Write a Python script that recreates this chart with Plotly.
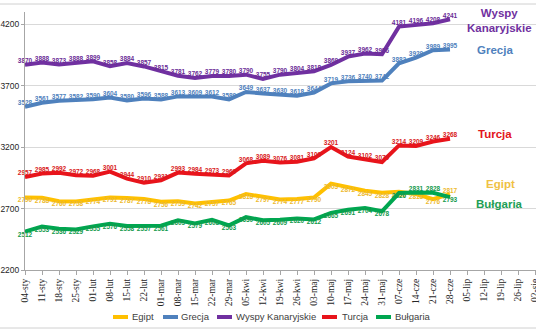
import plotly.graph_objects as go

# ---------------- data ----------------
categories = ["04-sty", "11-sty", "18-sty", "25-sty", "01-lut", "08-lut", "15-lut", "22-lut",
              "01-mar", "08-mar", "15-mar", "22-mar", "29-mar", "05-kwi", "12-kwi", "19-kwi",
              "26-kwi", "03-maj", "10-maj", "17-maj", "24-maj", "31-maj", "07-cze", "14-cze",
              "21-cze", "28-cze", "05-lip", "12-lip", "19-lip", "26-lip", "02-sie"]

egipt = [2790, 2788, 2760, 2758, 2774, 2791, 2787, 2778, 2756, 2759, 2742, 2757, 2765,
         2818, 2797, 2774, 2777, 2790, 2903, 2872, 2845, 2828, 2836, 2818, 2776, 2817]
grecja = [3528, 3561, 3577, 3582, 3590, 3604, 3580, 3596, 3588, 3613, 3609, 3612, 3589,
          3649, 3637, 3630, 3618, 3644, 3719, 3736, 3740, 3742, 3882, 3929, 3989, 3995]
wyspy = [3870, 3888, 3873, 3888, 3899, 3858, 3884, 3857, 3815, 3781, 3762, 3779, 3780,
         3790, 3755, 3790, 3804, 3818, 3869, 3937, 3962, 3956, 4181, 4196, 4208, 4241]
turcja = [2957, 2985, 2992, 2972, 2968, 3001, 2944, 2910, 2931, 2993, 2984, 2973, 2969,
          3068, 3089, 3076, 3081, 3109, 3201, 3124, 3102, 3079, 3214, 3209, 3246, 3268]
bulgaria = [2512, 2553, 2536, 2529, 2555, 2576, 2558, 2557, 2561, 2605, 2579, 2608, 2563,
            2630, 2605, 2609, 2620, 2612, 2665, 2691, 2704, 2678, 2826, 2831, 2828, 2793]

y_ticks = [2200, 2700, 3200, 3700, 4200]

# ---------------- styles ----------------
W, H = 536, 332
ML, MR, MT, MB = 25, 0, 12, 62
plot_w = W - ML - MR
plot_h = H - MT - MB

def px_x(px):
    return (px - ML) / plot_w

def px_y(py):
    return (H - MB - py) / plot_h

series = [
    ("Egipt", egipt, "#FFC000", "#EDB92E", "bottom center"),
    ("Grecja", grecja, "#4F81BD", "#4F81BD", "top center"),
    ("Wyspy Kanaryjskie", wyspy, "#7030A0", "#6A2C96", "top center"),
    ("Turcja", turcja, "#E8141B", "#D81920", "top center"),
    ("Bułgaria", bulgaria, "#00A650", "#139A4C", "bottom center"),
]

overrides = {
    ("Bułgaria", 23): "top center",
    ("Bułgaria", 24): "top center",
    ("Egipt", 25): "top center",
}

fig = go.Figure()
for name, vals, lc, tc, pos in series:
    n = len(vals)
    positions = [overrides.get((name, i), pos) for i in range(n)]
    fig.add_trace(go.Scatter(
        x=categories[:n], y=vals, name=name,
        mode="lines+text",
        line=dict(color=lc, width=4),
        text=[str(v) for v in vals],
        textposition=positions,
        textfont=dict(family="Liberation Sans", size=6.5, color=tc, weight="bold"),
        cliponaxis=False,
        showlegend=False,
    ))

fig.update_layout(
    width=W, height=H,
    margin=dict(l=ML, r=MR, t=MT, b=MB, autoexpand=False),
    paper_bgcolor="white", plot_bgcolor="white",
    showlegend=False,
    xaxis=dict(type="category", categoryorder="array", categoryarray=categories,
               range=[0, (W - ML - MR) / 17.0], showgrid=False, zeroline=False,
               showline=True, linecolor="#A6A6A6", linewidth=1,
               ticks="outside", ticklen=4, tickcolor="#A6A6A6",
               tickangle=-90, automargin=False,
               tickfont=dict(family="Liberation Serif", size=9.5, color="#262626")),
    yaxis=dict(range=[2200, 4300], tickvals=y_ticks, showgrid=True,
               gridcolor="#D9D9D9", gridwidth=1, zeroline=False,
               showline=True, linecolor="#A6A6A6", linewidth=1,
               ticks="outside", ticklen=3, tickcolor="#A6A6A6", automargin=False,
               tickfont=dict(family="Liberation Sans", size=8.5, color="#262626")),
)

# chart border (cropped at left/right)
fig.add_shape(type="rect", xref="paper", yref="paper",
              x0=px_x(-5), x1=px_x(541), y0=px_y(328), y1=px_y(4),
              line=dict(color="#D0D0D0", width=1), fillcolor="rgba(0,0,0,0)", layer="below")

# bottom legend (line sample + label)
legend_pos = {"Egipt": (113, 130), "Grecja": (163, 179), "Wyspy Kanaryjskie": (217, 234),
              "Turcja": (322, 340), "Bułgaria": (376, 393)}
legend_y = 317
for name, vals, lc, tc, pos in series:
    sx, tx = legend_pos[name]
    fig.add_shape(type="line", xref="paper", yref="paper",
                  x0=px_x(sx), x1=px_x(sx + 15), y0=px_y(legend_y), y1=px_y(legend_y),
                  line=dict(color=lc, width=4))
    fig.add_annotation(text=name, xref="paper", yref="paper", x=px_x(tx), y=px_y(legend_y),
                       xanchor="left", yanchor="middle", showarrow=False,
                       font=dict(family="Liberation Sans", size=9.5, color="#404040"))

# right-side labels
side_labels = [
    ("Wyspy<br>Kanaryjskie", 499, 21, "#7030A0"),
    ("Grecja", 495, 50, "#4F81BD"),
    ("Turcja", 495, 134, "#E3151B"),
    ("Egipt", 500, 184, "#EFC143"),
    ("Bułgaria", 499, 204, "#1E9E55"),
]
for txt, cx, cy, col in side_labels:
    fig.add_annotation(text=txt, xref="paper", yref="paper", x=px_x(cx), y=px_y(cy),
                       xanchor="center", yanchor="middle", showarrow=False, align="center",
                       font=dict(family="Liberation Sans", size=11.5, color=col, weight="bold"))

fig.write_html("out.html")
